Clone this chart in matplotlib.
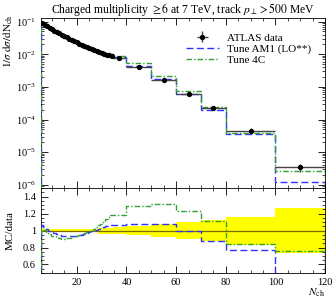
import numpy as np
import matplotlib
matplotlib.use("Agg")
import matplotlib.pyplot as plt
from matplotlib.ticker import MultipleLocator, LogLocator, NullFormatter

plt.rcParams["font.family"] = ["Liberation Serif", "DejaVu Serif"]
plt.rcParams["mathtext.fontset"] = "stix"

# bin edges: unit bins 5.5..34.5 then wider ones
edges = [5.5, 6.5, 7.5, 8.5, 9.5, 10.5, 11.5, 12.5, 13.5, 14.5, 15.5, 16.5, 17.5,
         18.5, 19.5, 20.5, 21.5, 22.5, 23.5, 24.5, 25.5, 26.5, 27.5, 28.5, 29.5,
         30.5, 31.5, 32.5, 33.5, 34.5, 40, 50, 60, 70, 80, 100, 120]
data_x = [6, 7, 8, 9, 10, 11, 12, 13, 14, 15, 16, 17, 18, 19, 20, 21, 22, 23, 24,
          25, 26, 27, 28, 29, 30, 31, 32, 33, 34, 37, 45, 55, 65, 75, 90, 110]
data_y = [0.089, 0.081, 0.072, 0.065, 0.059, 0.053, 0.048, 0.044, 0.040, 0.036,
          0.033, 0.030, 0.0275, 0.025, 0.023, 0.0214, 0.0195, 0.0182, 0.0170,
          0.0158, 0.0148, 0.0138, 0.0129, 0.0120, 0.0112, 0.0105, 0.0098, 0.0093,
          0.0087, 0.0077, 0.0041, 0.0016, 0.00063, 0.00022, 4.6e-5, 3.5e-6]
# relative data uncertainty
data_relerr = [0.02, 0.02, 0.02, 0.02, 0.02, 0.02, 0.02, 0.02, 0.02, 0.02, 0.02,
               0.02, 0.02, 0.02, 0.02, 0.02, 0.02, 0.02, 0.02, 0.02, 0.02, 0.02,
               0.02, 0.035, 0.035, 0.035, 0.035, 0.035, 0.035, 0.04, 0.05, 0.08,
               0.105, 0.125, 0.165, 0.265]
# MC / data ratios
ratio_am1 = [1.06, 1.04, 1.02, 1.0, 0.99, 0.97, 0.96, 0.95, 0.94, 0.935, 0.93,
             0.93, 0.93, 0.935, 0.94, 0.945, 0.95, 0.96, 0.97, 0.98, 0.99, 1.0,
             1.01, 1.02, 1.03, 1.04, 1.05, 1.055, 1.06, 1.07, 1.08, 1.075, 1.0,
             0.875, 0.77, 0.36]
ratio_4c = [1.04, 1.01, 0.98, 0.96, 0.94, 0.93, 0.92, 0.91, 0.905, 0.905, 0.91,
            0.915, 0.92, 0.93, 0.94, 0.95, 0.96, 0.97, 0.98, 0.99, 1.0, 1.02,
            1.04, 1.06, 1.08, 1.11, 1.14, 1.16, 1.18, 1.185, 1.285, 1.31, 1.23,
            1.11, 0.84, 0.76]

edges = np.array(edges)
data_x = np.array(data_x)
data_y = np.array(data_y)
relerr = np.array(data_relerr)
am1 = data_y * np.array(ratio_am1)
c4 = data_y * np.array(ratio_4c)
xlo = data_x - edges[:-1]
xhi = edges[1:] - data_x

blue = "#3030ff"
green = "#33a033"
dash_am1 = (0, (5, 2.5))
dash_4c = (0, (4, 1.5, 1, 1.5))

fig = plt.figure(figsize=(3.32, 2.99), dpi=100)
ax = fig.add_axes([0.123, 0.371, 0.856, 0.569])
rax = fig.add_axes([0.123, 0.087, 0.856, 0.284], sharex=ax)

ax.stairs(am1, edges, color=blue, ls=dash_am1, lw=1.0, label="Tune AM1 (LO**)", zorder=3)
ax.stairs(c4, edges, color=green, ls=dash_4c, lw=1.0, label="Tune 4C", zorder=3)
ax.errorbar(data_x, data_y, xerr=[xlo, xhi], yerr=data_y * relerr, fmt="o", ms=2.8,
            color="black", ecolor="#444444", elinewidth=1.0, capsize=0,
            label="ATLAS data", zorder=4)

ax.set_yscale("log")
ax.set_xlim(5.5, 120)
ax.set_ylim(8e-7, 0.13)
ax.set_title(r"Charged multiplicity $\geq 6$ at 7 TeV, track $p_\perp > 500$ MeV",
             fontsize=8.4, pad=3)
ax.set_ylabel(r"$1/\sigma\;\mathrm{d}\sigma/\mathrm{dN_{ch}}$", fontsize=8, loc="top")
ax.yaxis.set_label_coords(-0.092, 1.02)
ax.yaxis.set_minor_locator(LogLocator(base=10, subs=np.arange(2, 10), numticks=20))
ax.yaxis.set_minor_formatter(NullFormatter())
ax.tick_params(labelbottom=False)

h, l = ax.get_legend_handles_labels()
order = [2, 0, 1]
ax.legend([h[i] for i in order], [l[i] for i in order], loc="upper right",
          bbox_to_anchor=(0.985, 0.97), frameon=False, fontsize=8, handlelength=3.0,
          labelspacing=0.1, handletextpad=0.7)

# ratio panel
rax.stairs(1 + relerr, edges, baseline=1 - relerr, fill=True, color="#ffff00", lw=0, zorder=1)
rax.stairs(np.ones(len(data_y)), edges, color="#7a6a00", lw=0.9, zorder=2)
rax.stairs(ratio_am1, edges, color=blue, ls=dash_am1, lw=1.0, zorder=3)
rax.stairs(ratio_4c, edges, color=green, ls=dash_4c, lw=1.0, zorder=3)
rax.set_ylim(0.5, 1.5)
rax.set_ylabel("MC/data", fontsize=8)
rax.yaxis.set_label_coords(-0.092, 0.5)
rax.set_xlabel(r"$N_{\mathrm{ch}}$", fontsize=8, loc="right")
rax.xaxis.set_label_coords(1.0, -0.16)
rax.xaxis.label.set_va("top")
rax.xaxis.set_major_locator(MultipleLocator(20))
rax.xaxis.set_minor_locator(MultipleLocator(5))
rax.yaxis.set_minor_locator(MultipleLocator(0.05))
rax.set_yticks([0.6, 0.8, 1.0, 1.2, 1.4])
rax.set_yticklabels(["0.6", "0.8", "1", "1.2", "1.4"])

for a in (ax, rax):
    a.tick_params(which="both", direction="in", top=True, right=True, labelsize=7.5)
    a.tick_params(which="major", length=5, width=0.6)
    a.tick_params(which="minor", length=2.5, width=0.5)
    for s in a.spines.values():
        s.set_linewidth(0.6)

fig.savefig("out.png", dpi=100)
